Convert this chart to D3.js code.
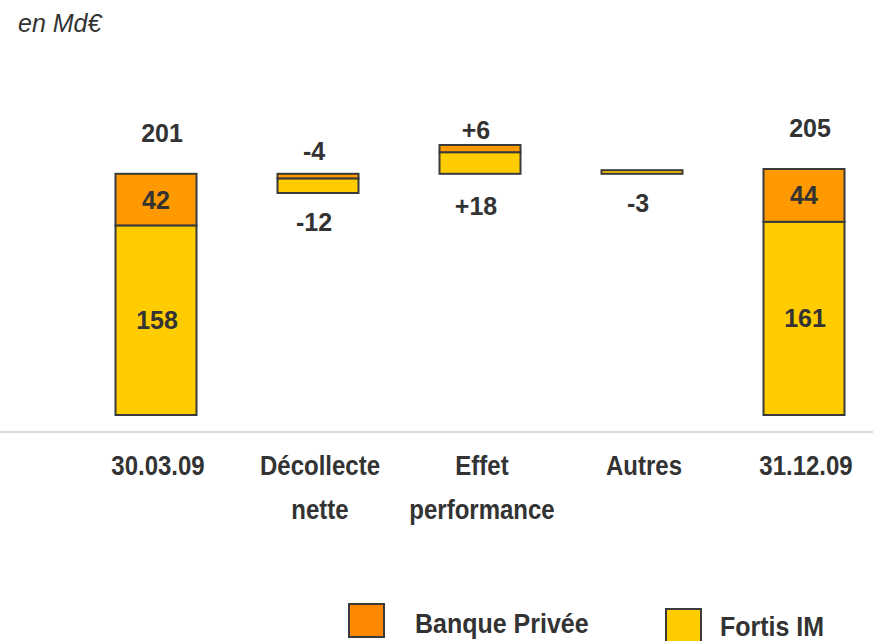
<!DOCTYPE html>
<html>
<head>
<meta charset="utf-8">
<script src="https://cdn.jsdelivr.net/npm/d3@7/dist/d3.min.js"></script>
<style>
  html, body { margin: 0; padding: 0; background: #fff; }
  svg { display: block; }
  text { font-family: "Liberation Sans", Arial, sans-serif; fill: #333; }
</style>
</head>
<body>
<svg id="chart" width="873" height="641"></svg>
<script>
// Encours sous gestion, en Md€ : pont 30.03.09 -> 31.12.09
const categories = [["30.03.09"], ["Décollecte", "nette"], ["Effet", "performance"], ["Autres"], ["31.12.09"]];
const stepType = ["total", "delta", "delta", "delta", "total"];
const fortisValues = [158, -12, 18, -3, 161];
const banqueValues = [42, -4, 6, 0, 44];
const totalValues = [201, null, null, null, 205];
// level where each variation bar starts
const stepBase = [0, 201, 201, 204, 0];
const fortisLabels = ["158", "-12", "+18", "-3", "161"];
const banqueLabels = ["42", "-4", "+6", "", "44"];
const seriesNames = ["Banque Privée", "Fortis IM"];

const colors = { banque: "#FF9900", fortis: "#FFCC00", legendBanque: "#FF8800", stroke: "#3a3a3a" };

const svg = d3.select("#chart");
const W = 873, H = 641;

const x = d3.scaleBand()
  .domain(d3.range(categories.length))
  .range([75, 885])
  .paddingInner(0.5)
  .paddingOuter(0.25);

const y = d3.scaleLinear().domain([0, 225]).range([415, 145]);

// Build the segments of each bar
const segs = [];
categories.forEach((c, i) => {
  if (stepType[i] === "total") {
    segs.push({ i, key: "fortis", y0: 0, y1: fortisValues[i] });
    segs.push({ i, key: "banque", y0: fortisValues[i], y1: totalValues[i] });
  } else {
    const f = fortisValues[i], b = banqueValues[i], base = stepBase[i];
    if (f + b < 0) {
      // decrease: private bank slice first from the top, then Fortis IM
      segs.push({ i, key: "banque", y0: base + b, y1: base });
      segs.push({ i, key: "fortis", y0: base + b + f, y1: base + b });
    } else {
      segs.push({ i, key: "fortis", y0: base, y1: base + f });
      segs.push({ i, key: "banque", y0: base + f, y1: base + f + b });
    }
  }
});

svg.append("g").selectAll("rect")
  .data(segs.filter(s => s.y1 !== s.y0))
  .join("rect")
  .attr("x", d => x(d.i))
  .attr("width", x.bandwidth())
  .attr("y", d => y(Math.max(d.y0, d.y1)))
  .attr("height", d => Math.abs(y(d.y0) - y(d.y1)))
  .attr("fill", d => colors[d.key])
  .attr("stroke", colors.stroke)
  .attr("stroke-width", 2);

// Baseline
svg.append("line")
  .attr("x1", 0).attr("x2", W)
  .attr("y1", 432).attr("y2", 432)
  .attr("stroke", "#d9d9d9").attr("stroke-width", 2);

// text drawn slightly stretched vertically, like a narrow bold face
function tallText(g, tx, ty, str, sy) {
  return g.append("text")
    .attr("transform", `translate(${tx},${ty}) scale(1,${sy})`)
    .text(str);
}

const lbl = svg.append("g").attr("font-weight", "bold").attr("font-size", 25).attr("text-anchor", "middle");

categories.forEach((c, i) => {
  const cx = x(i) + x.bandwidth() / 2;
  if (stepType[i] === "total") {
    const f = fortisValues[i], t = totalValues[i];
    tallText(lbl, cx + 1, (y(0) + y(f)) / 2 + 9, fortisLabels[i], 1.05);
    tallText(lbl, cx, (y(f) + y(t)) / 2 + 9, banqueLabels[i], 1.05);
    tallText(lbl, cx + 6, y(t) - 32, String(t), 1.05);
  } else {
    const base = stepBase[i], f = fortisValues[i], b = banqueValues[i];
    const top = Math.max(base, base + f + b), bottom = Math.min(base, base + f + b);
    const up = f + b > 0;
    if (banqueLabels[i]) tallText(lbl, cx - 4, y(top) - (up ? 6 : 14), banqueLabels[i], 1.05);
    tallText(lbl, cx - 4, y(bottom) + (up ? 41 : 38), fortisLabels[i], 1.05);
  }
});

// Category labels
const cat = svg.append("g").attr("font-weight", "bold").attr("font-size", 24).attr("text-anchor", "middle");
categories.forEach((lines, i) => {
  const cx = x(i) + x.bandwidth() / 2;
  lines.forEach((t, k) => {
    tallText(cat, cx + 2, 475 + k * 44, t, 1.15);
  });
});

// Unit
svg.append("text").attr("x", 18).attr("y", 32)
  .attr("font-size", 25).attr("font-style", "italic").text("en Md€");

// Legend
const legend = [
  { name: seriesNames[0], color: colors.legendBanque, bx: 349, by: 604, tx: 415, ty: 633 },
  { name: seriesNames[1], color: colors.fortis, bx: 666, by: 609, tx: 720, ty: 636 }
];
const lg = svg.append("g").attr("font-size", 25).attr("font-weight", "bold");
lg.selectAll("rect").data(legend).join("rect")
  .attr("x", d => d.bx).attr("y", d => d.by).attr("width", 35).attr("height", 33)
  .attr("fill", d => d.color).attr("stroke", colors.stroke).attr("stroke-width", 2);
legend.forEach(d => tallText(lg, d.tx, d.ty, d.name, 1.1));
</script>
</body>
</html>
